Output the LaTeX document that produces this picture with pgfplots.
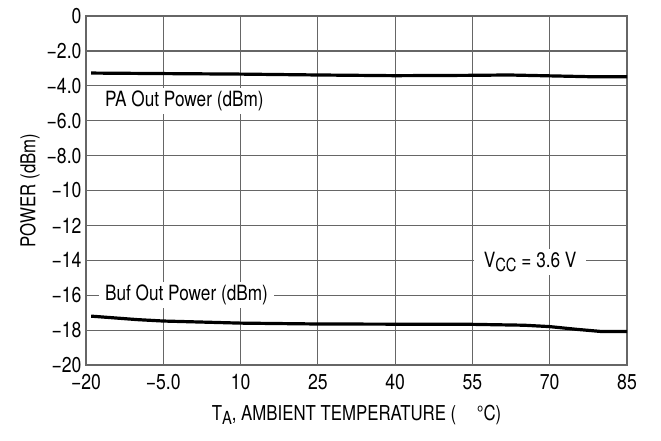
\documentclass[border=0pt]{standalone}
\usepackage{fontspec}
\setmainfont{TeX Gyre Heros}[FakeStretch=0.82]
\usepackage{pgfplots}
\pgfplotsset{compat=1.18}
\newcommand{\lowsub}[1]{\raisebox{-0.35ex}{\fontsize{18}{18}\selectfont #1}}

\begin{document}
\begin{tikzpicture}
\begin{axis}[
    scale only axis,
    width=541pt, height=349pt,
    xmin=-20, xmax=85, ymin=-20, ymax=0,
    xtick={-20,-5,10,25,40,55,70,85},
    xticklabels={−20,−5.0,10,25,40,55,70,85},
    ytick={-20,-18,...,0},
    yticklabels={−20,−18,−16,−14,−12,−10,−8.0,−6.0,−4.0,−2.0,0},
    grid=major,
    grid style={gray!80!black, line width=1.2pt},
    axis line style={gray!80!black, line width=1.2pt},
    major tick length=0pt,
    tick label style={font=\fontsize{21.5}{21.5}\selectfont},
    xticklabel style={yshift=-6pt},
    yticklabel style={xshift=-1pt},
    xlabel={T\lowsub{A}, AMBIENT TEMPERATURE (\quad °C)},
    ylabel={POWER (dBm)},
    label style={font=\fontsize{20.5}{20.5}\selectfont},
    xlabel style={yshift=-8pt},
    ylabel style={yshift=0pt},
    clip=false,
]
\addplot[black, line width=3.2pt] coordinates {
    (-19,-3.27) (-5,-3.30) (10,-3.33) (25,-3.38) (40,-3.42)
    (55,-3.40) (62,-3.38) (70,-3.43) (78,-3.48) (85,-3.48)};
\addplot[black, line width=3.2pt] coordinates {
    (-19,-17.20) (-10,-17.40) (-5,-17.48) (10,-17.60) (25,-17.65)
    (40,-17.66) (55,-17.67) (65,-17.72) (70,-17.80) (75,-17.95)
    (80,-18.08) (85,-18.08)};
\node[fill=white, anchor=west, inner xsep=6pt, font=\fontsize{21}{21}\selectfont]
    at (axis cs:-17.5,-4.87) {PA Out Power (dBm)};
\node[fill=white, anchor=west, inner xsep=6pt, font=\fontsize{21}{21}\selectfont]
    at (axis cs:-17.5,-15.99) {Buf Out Power (dBm)};
\node[fill=white, inner xsep=10pt, font=\fontsize{21}{21}\selectfont]
    at (axis cs:66.2,-14.1) {V\lowsub{CC} = 3.6 V};
\end{axis}
\path (current axis.south west) ++(-86pt,-75pt) rectangle ++(661pt,440pt);
\end{tikzpicture}
\end{document}
